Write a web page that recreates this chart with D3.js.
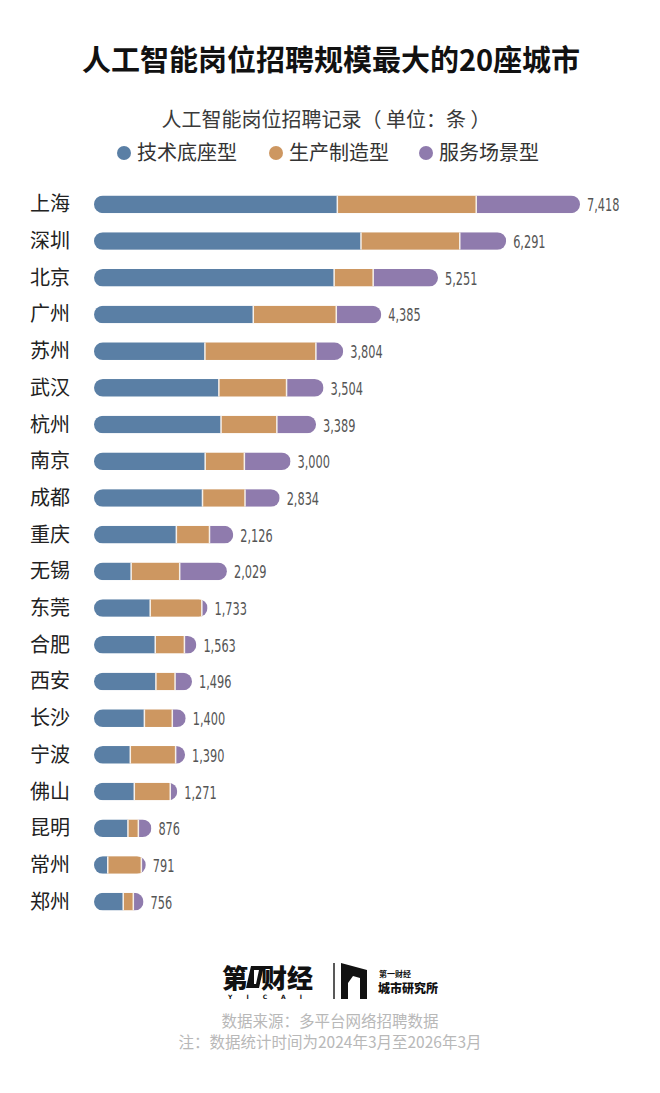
<!DOCTYPE html>
<html>
<head>
<meta charset="utf-8">
<script src="https://cdn.jsdelivr.net/npm/d3@7"></script>
<style>
  body { margin: 0; background: #fff; }
  svg { display: block; font-family: "Noto Sans CJK SC", "Noto Sans", sans-serif; }
</style>
</head>
<body>
<svg id="chart" width="660" height="1093"></svg>
<script>
// city names, top to bottom
const cities = ['上海', '深圳', '北京', '广州', '苏州', '武汉', '杭州', '南京', '成都', '重庆',
    '无锡', '东莞', '合肥', '西安', '长沙', '宁波', '佛山', '昆明', '常州', '郑州'];

// totals printed at the end of each bar
const totals = [7418, 6291, 5251, 4385, 3804, 3504, 3389, 3000, 2834, 2126,
    2029, 1733, 1563, 1496, 1400, 1390, 1271, 876, 791, 756];

// segment values
const techValues = [3714, 4075, 3665, 2431, 1693, 1906, 1939, 1697, 1656, 1257,
    567, 858, 935, 945, 769, 554, 615, 518, 210, 446];
const makeValues = [2120, 1508, 596, 1267, 1694, 1033, 852, 598, 649, 506,
    741, 788, 445, 292, 426, 692, 549, 159, 513, 154];
// the service part is what is left of the total
const serviceValues = totals.map((t, i) => t - techValues[i] - makeValues[i]);

const seriesNames = ['技术底座型', '生产制造型', '服务场景型'];
const seriesColors = ['#5a7fa5', '#cd9761', '#8f7bad'];

const svg = d3.select('#chart');

// title
svg.append('text')
    .attr('x', 331).attr('y', 71)
    .attr('text-anchor', 'middle')
    .attr('font-size', 29).attr('font-weight', 700)
    .attr('fill', '#111')
    .text('人工智能岗位招聘规模最大的20座城市');

svg.append('text')
    .attr('x', 326).attr('y', 127)
    .attr('text-anchor', 'middle')
    .attr('font-size', 20)
    .attr('fill', '#3a3a3a')
    .text('人工智能岗位招聘记录（ 单位：条 ）');

// legend
const legendX = [124, 276, 426];
const legend = svg.append('g');
seriesNames.forEach((name, i) => {
    legend.append('circle')
        .attr('cx', legendX[i]).attr('cy', 153).attr('r', 7)
        .attr('fill', seriesColors[i]);
    legend.append('text')
        .attr('x', legendX[i] + 13).attr('y', 160)
        .attr('font-size', 20)
        .attr('fill', '#333')
        .text(name);
});

// scales
const x = d3.scaleLinear().domain([0, 7418]).range([94, 580]);
const y = d3.scaleBand().domain(cities).range([186, 920]).paddingInner(0.52).paddingOuter(0.26);

const data = cities.map((c, i) => ({
    city: c,
    total: totals[i],
    parts: [techValues[i], makeValues[i], serviceValues[i]]
}));

const stacked = d3.stack().keys([0, 1, 2]).value((d, k) => d.parts[k])(data);

const defs = svg.append('defs');
defs.selectAll('clipPath')
    .data(data)
    .enter()
    .append('clipPath')
    .attr('id', (d, i) => 'clip' + i)
    .append('rect')
    .attr('x', x(0))
    .attr('y', d => y(d.city))
    .attr('width', d => x(d.total) - x(0))
    .attr('height', y.bandwidth())
    .attr('rx', y.bandwidth() / 2);

const rows = svg.append('g').selectAll('g')
    .data(data)
    .enter()
    .append('g')
    .attr('clip-path', (d, i) => `url(#clip${i})`);

rows.each(function (d, i) {
    const g = d3.select(this);
    stacked.forEach((layer, k) => {
        const seg = layer[i];
        g.append('rect')
            .attr('x', x(seg[0]))
            .attr('y', y(d.city))
            .attr('width', Math.max(0, x(seg[1]) - x(seg[0])))
            .attr('height', y.bandwidth())
            .attr('fill', seriesColors[k]);
    });
    // thin white dividers between parts
    [stacked[0][i][1], stacked[1][i][1]].forEach(v => {
        g.append('line')
            .attr('x1', x(v)).attr('x2', x(v))
            .attr('y1', y(d.city)).attr('y2', y(d.city) + y.bandwidth())
            .attr('stroke', '#f6f0ea')
            .attr('stroke-width', 1.5);
    });
});

// city labels
svg.append('g').selectAll('text')
    .data(data)
    .enter()
    .append('text')
    .attr('x', 30)
    .attr('y', d => y(d.city) + y.bandwidth() / 2 + 7)
    .attr('font-size', 20)
    .attr('fill', '#222')
    .text(d => d.city);

// value labels
const fmt = d3.format(',');
svg.append('g').selectAll('text')
    .data(data)
    .enter()
    .append('text')
    .attr('transform', d => `translate(${x(d.total) + 7},${y(d.city) + y.bandwidth() / 2 + 7}) scale(0.7,1)`)
    .attr('font-family', '"Liberation Sans Narrow", "DejaVu Sans Condensed", sans-serif')
    .attr('font-size', 18)
    .attr('fill', '#555')
    .text(d => fmt(d.total));

// footer logo
const logo = svg.append('g');
logo.append('text')
    .attr('x', 222).attr('y', 988)
    .attr('font-size', 26).attr('font-weight', 900)
    .attr('fill', '#111')
    .text('第');
logo.append('path')
    .attr('d', 'M251,966 L264,966 L259,988 L246,988 Z M254,970 L254,984 L256,984 L259,970 Z')
    .attr('fill', '#111')
    .attr('fill-rule', 'evenodd');
logo.append('text')
    .attr('x', 261).attr('y', 988)
    .attr('font-size', 26).attr('font-weight', 900)
    .attr('fill', '#111')
    .text('财经');
logo.append('text')
    .attr('x', 272).attr('y', 999)
    .attr('text-anchor', 'middle')
    .attr('font-family', '"DejaVu Sans", sans-serif')
    .attr('font-size', 6).attr('font-weight', 700)
    .attr('letter-spacing', 14)
    .attr('fill', '#111')
    .text('YICAI');
logo.append('line')
    .attr('x1', 334).attr('x2', 334)
    .attr('y1', 963).attr('y2', 999)
    .attr('stroke', '#222').attr('stroke-width', 1.5);
logo.append('path')
    .attr('d', 'M341,999 L341,963 L367,970 L367,999 L360,999 L360,978 L353,976 L348,983 L348,999 Z')
    .attr('fill', '#111');
logo.append('text')
    .attr('x', 379).attr('y', 977)
    .attr('font-size', 8).attr('font-weight', 700)
    .attr('fill', '#111')
    .text('第一财经');
logo.append('text')
    .attr('x', 378).attr('y', 993)
    .attr('font-size', 12).attr('font-weight', 900)
    .attr('fill', '#111')
    .text('城市研究所');

// footer notes
svg.append('text')
    .attr('x', 330).attr('y', 1027)
    .attr('text-anchor', 'middle')
    .attr('font-size', 15.5)
    .attr('fill', '#b8b8b8')
    .text('数据来源：多平台网络招聘数据');
svg.append('text')
    .attr('x', 330).attr('y', 1048)
    .attr('text-anchor', 'middle')
    .attr('font-size', 15.5)
    .attr('fill', '#b8b8b8')
    .text('注：数据统计时间为2024年3月至2026年3月');
</script>
</body>
</html>
